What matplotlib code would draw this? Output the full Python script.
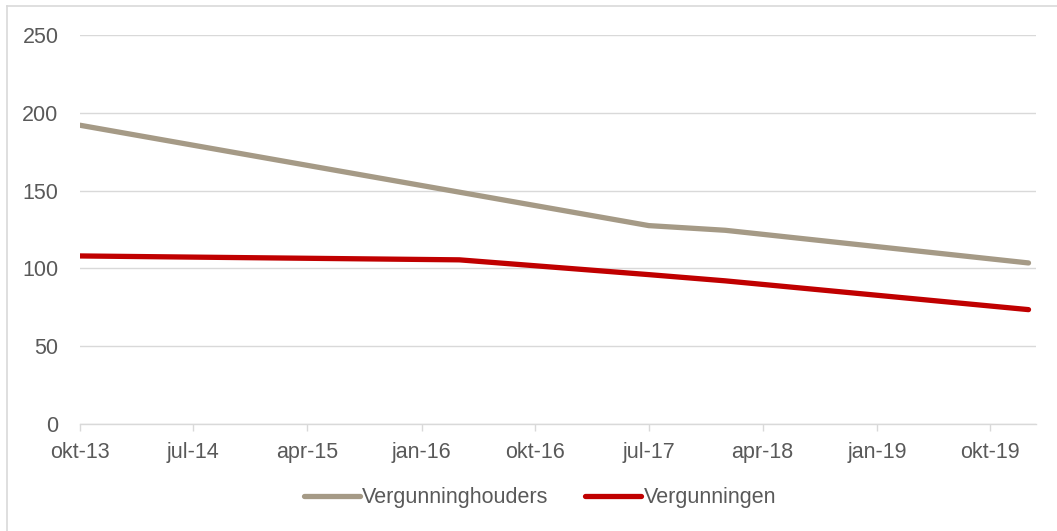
import matplotlib
matplotlib.use("Agg")
import matplotlib.pyplot as plt
from matplotlib.lines import Line2D
import datetime as dt

plt.rcParams['font.family'] = ['Liberation Sans', 'DejaVu Sans']

# ---- data ----
dates = ["2013-10-01", "2016-04-01", "2017-07-01", "2018-01-01", "2020-01-01"]
vergunninghouders = [192, 149, 127.5, 124.5, 103.5]
vergunningen = [108, 105.5, 96, 92, 73.5]
tick_dates = ["2013-10-01", "2014-07-01", "2015-04-01", "2016-01-01", "2016-10-01",
              "2017-07-01", "2018-04-01", "2019-01-01", "2019-10-01"]
tick_labels = ["okt-13", "jul-14", "apr-15", "jan-16", "okt-16",
               "jul-17", "apr-18", "jan-19", "okt-19"]
y_ticks = [0, 50, 100, 150, 200, 250]
series_names = ["Vergunninghouders", "Vergunningen"]
colors = ["#A59A86", "#C00000"]

W, H = 1057, 531
fig = plt.figure(figsize=(W / 100, H / 100), dpi=100)

x0, x1, yb, yt = 80, 1036, 424, 35
ax = fig.add_axes([x0 / W, (H - yb) / H, (x1 - x0) / W, (yb - yt) / H])

xd = [dt.datetime.fromisoformat(d) for d in dates]
ax.plot(xd, vergunninghouders, color=colors[0], lw=3.8, solid_capstyle='round',
        solid_joinstyle='round', label=series_names[0], zorder=3)
ax.plot(xd, vergunningen, color=colors[1], lw=3.8, solid_capstyle='round',
        solid_joinstyle='round', label=series_names[1], zorder=3)

ax.set_ylim(0, 250)
ax.set_yticks(y_ticks)
ax.set_xlim(dt.datetime(2013, 10, 1), dt.datetime(2020, 1, 19))
ax.set_xticks([dt.datetime.fromisoformat(d) for d in tick_dates])
ax.set_xticklabels(tick_labels)

ax.grid(axis='y', color='#D9D9D9', lw=1.0, zorder=0)
for s in ['top', 'right', 'left']:
    ax.spines[s].set_visible(False)
ax.spines['bottom'].set_color('#D9D9D9')
ax.spines['bottom'].set_linewidth(1.0)

ax.tick_params(axis='y', length=0, pad=15.5, labelsize=15.5, labelcolor='#595959')
ax.tick_params(axis='x', length=5, width=1.0, color='#D9D9D9', pad=8,
               labelsize=15.5, labelcolor='#595959', direction='out')

leg = fig.legend(loc='center', bbox_to_anchor=(540 / W, (H - 498) / H), ncol=2,
                 frameon=False, fontsize=15.5, labelcolor='#595959',
                 handlelength=2.6, handletextpad=0.12, columnspacing=1.7)

# figure border (top and left)
fig.add_artist(Line2D([7 / W, 1.0], [1 - 6 / H, 1 - 6 / H], color='#D9D9D9', lw=1.2))
fig.add_artist(Line2D([7 / W, 7 / W], [0, 1 - 6 / H], color='#D9D9D9', lw=1.2))

fig.savefig("out.png", dpi=100)
